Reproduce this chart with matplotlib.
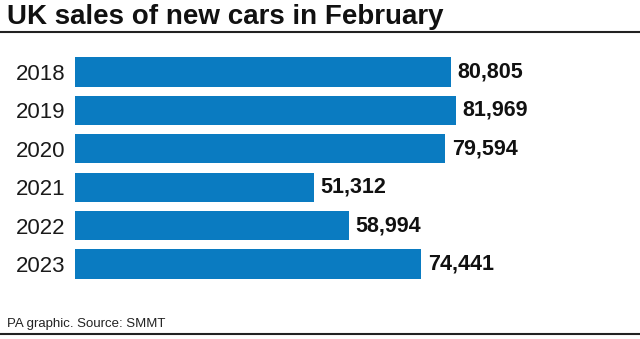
import matplotlib
matplotlib.use("Agg")
import matplotlib.pyplot as plt
from matplotlib.lines import Line2D

years = ["2018", "2019", "2020", "2021", "2022", "2023"]
sales = [80805, 81969, 79594, 51312, 58994, 74441]
title = "UK sales of new cars in February"
source = "PA graphic. Source: SMMT"

W, H = 640, 339
fig = plt.figure(figsize=(W / 100, H / 100), dpi=100)
fig.patch.set_facecolor("white")

font = "Liberation Sans"
bar_color = "#0a7bc1"

left_px, top_px, bot_px = 75, 52.8, 283.2
ax = fig.add_axes([left_px / W, 1 - bot_px / H, 1 - left_px / W, (bot_px - top_px) / H])
scale = 0.004653  # px per unit
ax.set_xlim(0, (W - left_px) / scale)
ax.set_ylim(len(years) - 0.5, -0.5)
ypos = list(range(len(years)))
ax.barh(ypos, sales, height=0.76, color=bar_color)
for s in ax.spines.values():
    s.set_visible(False)
ax.set_xticks([])
ax.set_yticks(ypos)
ax.set_yticklabels(years, fontfamily=font, fontsize=16, color="#1a1a1a")
ax.tick_params(axis="y", length=0, pad=7)
for y, v in zip(ypos, sales):
    ax.text(v + 7 / scale * 0.9, y, f"{v:,}", va="center", ha="left",
            fontfamily=font, fontsize=15.5, color="#111111", fontweight="bold")

fig.text(7 / W, 1 - 24 / H, title, fontfamily=font, fontsize=20,
         fontweight="bold", color="#111111", va="baseline", ha="left")
fig.add_artist(Line2D([0, 1], [1 - 32 / H, 1 - 32 / H], transform=fig.transFigure,
                      color="#222222", lw=1.5))
fig.text(7 / W, 1 - 327.5 / H, source, fontfamily=font, fontsize=9.5,
         color="#222222", va="baseline", ha="left")
fig.add_artist(Line2D([0, 1], [1 - 333.5 / H, 1 - 333.5 / H], transform=fig.transFigure,
                      color="#222222", lw=1.5))

fig.savefig("out.png", dpi=100, facecolor="white")
